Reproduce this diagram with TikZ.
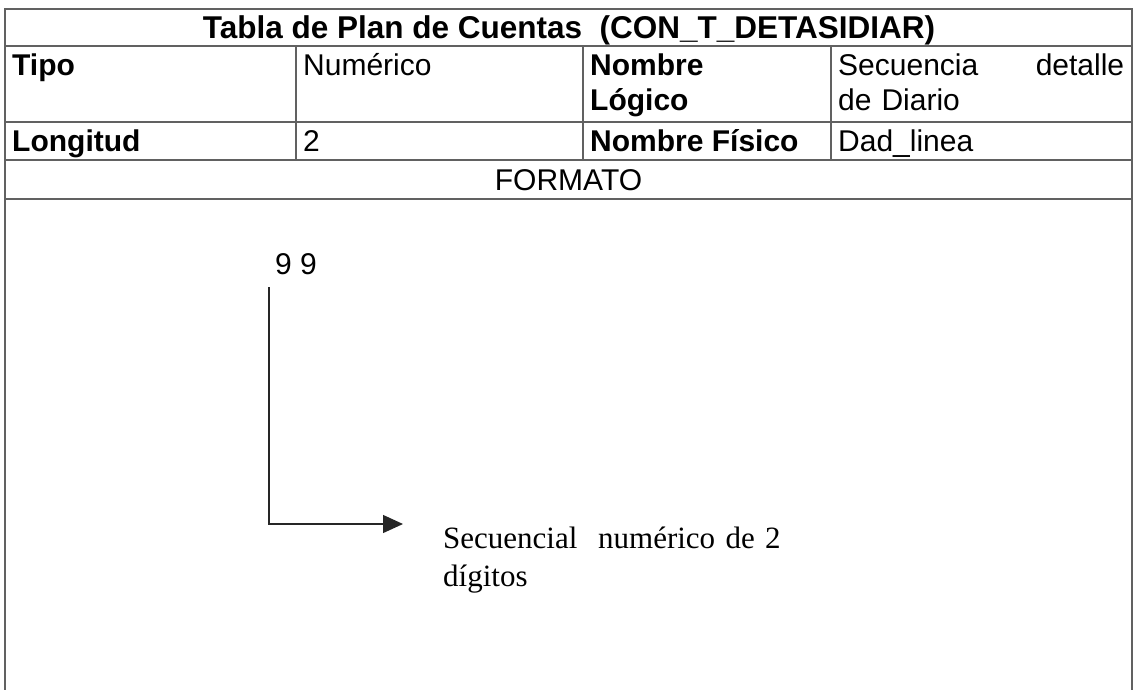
\documentclass[tikz,border=0pt]{standalone}
\usepackage{fontspec}
\setmainfont{Liberation Sans}
\newfontfamily\descfont{Liberation Serif}
\usetikzlibrary{arrows.meta}
\begin{document}
\begin{tikzpicture}[x=1pt,y=-1pt,
  grid/.style={draw=black!62, line width=1.1pt},
  celltxt/.style={anchor=base west, inner sep=0pt, font=\fontsize{30}{35}\selectfont},
  hdr/.style={celltxt, font=\fontsize{30}{35}\selectfont\bfseries},
  conn/.style={draw=black!85, line width=1.3pt},
]
\useasboundingbox (0,0) rectangle (1134,690);
% table grid
\draw[grid] (5,690) -- (5,9) -- (1132,9) -- (1132,690);
\draw[grid] (5,46) -- (1132,46);
\draw[grid] (5,122) -- (1132,122);
\draw[grid] (5,160) -- (1132,160);
\draw[grid] (5,199) -- (1132,199);
\draw[grid] (296,46) -- (296,160);
\draw[grid] (583,46) -- (583,160);
\draw[grid] (831,46) -- (831,160);
% texts
\node[hdr, anchor=base, font=\fontsize{31.5}{35}\selectfont\bfseries] (title) at (569,39) {Tabla de Plan de Cuentas\ \ (CON\_T\_DETASIDIAR)};
\node[hdr] (tipo) at (12,76) {Tipo};
\node[celltxt] (num) at (303,76) {Numérico};
\node[hdr, text width=240pt, align=left] (nl) at (590,76) {Nombre\\Lógico};
\node[celltxt, text width=286pt, align=left] (sec) at (838,76) {Secuencia\hskip 0pt plus 1fill detalle\\de Diario};
\node[hdr] (lon) at (12,151) {Longitud};
\node[celltxt] (dos) at (303,151) {2};
\node[hdr] (nf) at (590,151) {Nombre Físico};
\node[celltxt] (dad) at (838,151) {Dad\_linea};
\node[celltxt, anchor=base] (fmt) at (568.5,190) {FORMATO};
% format diagram
\node[celltxt, anchor=base] (nn) at (296,274) {9 9};
\coordinate (vtop) at (269,287);
\coordinate (atip) at (403,524);
\draw[conn, -{Triangle[length=20pt,width=18pt]}] (vtop) |- (atip);
\node[anchor=base west, inner sep=0pt, text width=400pt, align=left,
      font=\descfont\fontsize{31}{38}\selectfont] (desc) at (443,548)
      {Secuencial\ \ numérico de 2\\dígitos};
\end{tikzpicture}
\end{document}
